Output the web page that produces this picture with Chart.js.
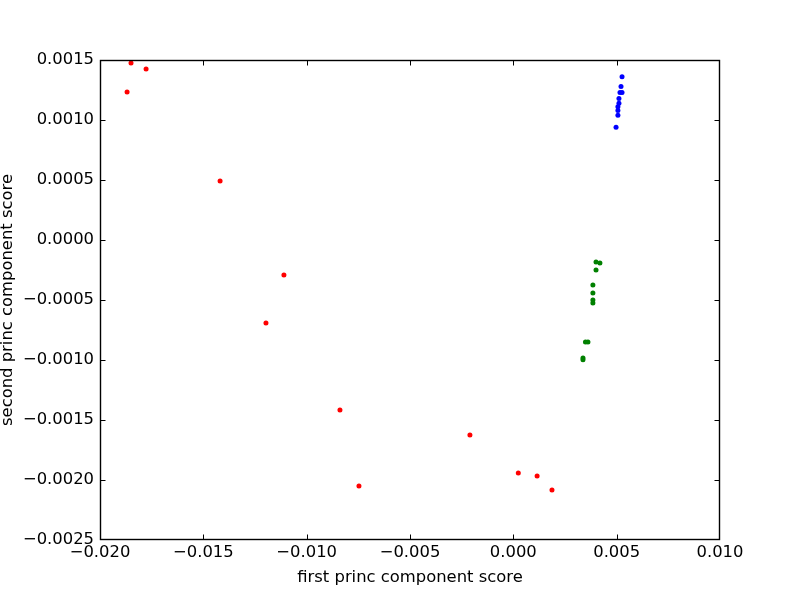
<!DOCTYPE html>
<html>
<head>
<meta charset="utf-8">
<script src="https://cdn.jsdelivr.net/npm/chart.js@4"></script>
<style>
  html, body { margin: 0; padding: 0; background: #fff; }
  #wrap { width: 800px; height: 600px; }
</style>
</head>
<body>
<div id="wrap"><canvas id="pca"></canvas></div>
<script>
// first / second principal component scores, grouped
const redX = [-0.0185, -0.01777, -0.01869, -0.01419, -0.01110, -0.01197, -0.00839, -0.00747, -0.00210, 0.00024, 0.00115, 0.00187];
const redY = [0.001475, 0.001425, 0.001233, 0.000492, -0.000292, -0.000692, -0.001417, -0.00205, -0.001625, -0.001942, -0.001967, -0.002083];

const greenX = [0.00400, 0.00419, 0.00400, 0.00385, 0.00385, 0.00385, 0.00385, 0.00361, 0.00349, 0.00337, 0.00337];
const greenY = [-0.000183, -0.000192, -0.00025, -0.000375, -0.000442, -0.0005, -0.000525, -0.00085, -0.00085, -0.000983, -0.000997];

const blueX = [0.00526, 0.00521, 0.00526, 0.00516, 0.00511, 0.00511, 0.00506, 0.00506, 0.00506, 0.00497];
const blueY = [0.00136, 0.00128, 0.00123, 0.00123, 0.00118, 0.00114, 0.00111, 0.00108, 0.00104, 0.00094];

const xTicks = [-0.020, -0.015, -0.010, -0.005, 0.000, 0.005, 0.010];
const yTicks = [0.0015, 0.0010, 0.0005, 0.0000, -0.0005, -0.0010, -0.0015, -0.0020, -0.0025];

function pts(xs, ys) {
  return xs.map((x, i) => ({ x: x, y: ys[i] }));
}

function fmt(v, digits) {
  const s = Math.abs(v).toFixed(digits);
  return (v < -1e-12 ? '\u2212' : '') + s;
}

Chart.defaults.font.family = 'DejaVu Sans';
Chart.defaults.font.size = 16.4;
Chart.defaults.color = '#000';

// box frame with inward ticks on all four sides, like matplotlib
const frame = {
  id: 'frame',
  afterDraw(chart) {
    const { ctx, chartArea: a, scales } = chart;
    const len = 5;
    const L = a.left + 0.5, R = a.right - 0.5, T = a.top + 0.5, B = a.bottom - 0.5;
    const clamp = (v, lo, hi) => Math.min(Math.max(v, lo), hi);
    ctx.save();
    ctx.strokeStyle = '#000';
    ctx.lineWidth = 1;
    ctx.beginPath();
    xTicks.forEach((t) => {
      const px = clamp(Math.round(scales.x.getPixelForValue(t)) + 0.5, L, R);
      ctx.moveTo(px, B); ctx.lineTo(px, B - len);
      ctx.moveTo(px, T); ctx.lineTo(px, T + len);
    });
    yTicks.forEach((t) => {
      const py = clamp(Math.round(scales.y.getPixelForValue(t)) + 0.5, T, B);
      ctx.moveTo(L, py); ctx.lineTo(L + len, py);
      ctx.moveTo(R, py); ctx.lineTo(R - len, py);
    });
    ctx.stroke();
    ctx.lineWidth = 1.4;
    ctx.strokeRect(L, T, R - L, B - T);
    ctx.restore();
  }
};

const ctx = document.getElementById('pca').getContext('2d');
new Chart(ctx, {
  type: 'scatter',
  data: {
    datasets: [
      { label: 'red', data: pts(redX, redY), backgroundColor: '#ff0000', borderColor: '#ff0000' },
      { label: 'green', data: pts(greenX, greenY), backgroundColor: '#008000', borderColor: '#008000' },
      { label: 'blue', data: pts(blueX, blueY), backgroundColor: '#0000ff', borderColor: '#0000ff' },
    ],
  },
  options: {
    responsive: true,
    maintainAspectRatio: false,
    animation: false,
    layout: { padding: { top: 60, right: 80, left: 0, bottom: 0 } },
    elements: { point: { radius: 2.5, borderWidth: 0, hoverRadius: 2.5 } },
    scales: {
      x: {
        type: 'linear',
        min: -0.020,
        max: 0.010,
        afterBuildTicks: (s) => { s.ticks = xTicks.map((v) => ({ value: v })); },
        afterFit: (s) => { s.height = 60; },
        grid: { display: true, drawOnChartArea: false, drawTicks: false, color: 'rgba(0,0,0,0)' },
        border: { display: false },
        ticks: { padding: 3, maxRotation: 0, callback: (v) => fmt(v, 3) },
        title: { display: true, text: 'first princ component score', font: { lineHeight: 1 }, padding: { top: 0, bottom: 14 } },
      },
      y: {
        type: 'linear',
        min: -0.0025,
        max: 0.0015,
        afterBuildTicks: (s) => { s.ticks = yTicks.map((v) => ({ value: v })); },
        afterFit: (s) => { s.width = 100; },
        grid: { display: true, drawOnChartArea: false, drawTicks: false, color: 'rgba(0,0,0,0)' },
        border: { display: false },
        ticks: { padding: 6, callback: (v) => fmt(v, 4) },
        title: { display: true, text: 'second princ component score', font: { lineHeight: 1 }, padding: { top: 0, bottom: 0 } },
      },
    },
    plugins: {
      legend: { display: false },
      tooltip: { enabled: false },
    },
  },
  plugins: [frame],
});
</script>
</body>
</html>
